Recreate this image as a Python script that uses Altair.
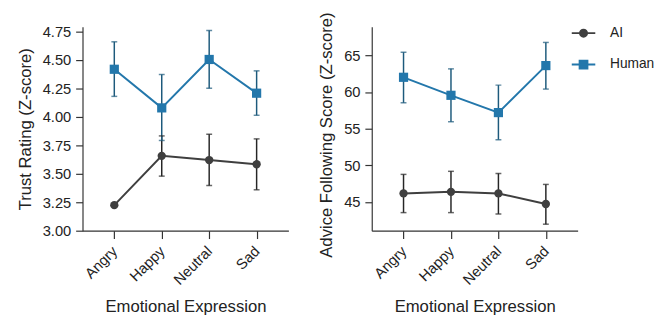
import altair as alt
import pandas as pd

emotions = ["Angry", "Happy", "Neutral", "Sad"]
series_names = ["AI", "Human"]

trust_ai = [3.224, 3.657, 3.620, 3.583]
trust_ai_lo = [3.224, 3.479, 3.396, 3.359]
trust_ai_hi = [3.224, 3.832, 3.846, 3.806]
trust_hu = [4.417, 4.078, 4.503, 4.207]
trust_hu_lo = [4.179, 3.792, 4.250, 4.013]
trust_hu_hi = [4.658, 4.371, 4.758, 4.403]

adv_ai = [46.16, 46.38, 46.16, 44.72]
adv_ai_lo = [43.54, 43.54, 43.36, 41.96]
adv_ai_hi = [48.76, 49.18, 48.89, 47.39]
adv_hu = [62.02, 59.56, 57.20, 63.62]
adv_hu_lo = [58.54, 55.95, 53.50, 60.41]
adv_hu_hi = [65.44, 63.17, 60.95, 66.78]

trust_ticks = [3.0, 3.25, 3.5, 3.75, 4.0, 4.25, 4.5, 4.75]
adv_ticks = [45, 50, 55, 60, 65]

AI_COL = "#3f3f3f"
HU_COL = "#2377ab"
AI_ERR = "#262626"
HU_ERR = "#1d5a7c"
FONT = "Liberation Sans"


def make_df(ai, ai_lo, ai_hi, hu, hu_lo, hu_hi):
    rows = []
    for i, e in enumerate(emotions):
        rows.append({"emotion": e, "series": "AI", "mean": ai[i], "lo": ai_lo[i], "hi": ai_hi[i]})
        rows.append({"emotion": e, "series": "Human", "mean": hu[i], "lo": hu_lo[i], "hi": hu_hi[i]})
    return pd.DataFrame(rows)


def panel(df, domain, ticks, ytitle, fmt, with_legend, title_y=None):
    xenc = alt.X(
        "emotion:N",
        scale=alt.Scale(type="point", padding=0.67, domain=emotions),
        axis=alt.Axis(title="Emotional Expression", labelAngle=-45, labelAlign="right",
                      labelBaseline="middle", tickSize=8, labelPadding=10, titlePadding=12),
    )
    yscale = alt.Scale(domain=domain, nice=False, zero=False)
    yaxis_args = dict(title=ytitle, values=ticks, format=fmt, tickSize=7, labelPadding=5,
                      titlePadding=8, labelOverlap=False, tickCount=12)
    if title_y is not None:
        yaxis_args["titleY"] = title_y
    yaxis = alt.Axis(**yaxis_args)
    color = alt.Color("series:N", scale=alt.Scale(domain=series_names, range=[AI_COL, HU_COL]), legend=None)
    errc = alt.condition("datum.series == 'AI'", alt.value(AI_ERR), alt.value(HU_ERR))
    base = alt.Chart(df).encode(x=xenc)

    rules = base.mark_rule(strokeWidth=1.5).encode(
        y=alt.Y("lo:Q", scale=yscale, axis=yaxis), y2="hi:Q", color=errc)
    caps_lo = base.mark_tick(size=6, thickness=1.5).encode(y=alt.Y("lo:Q", scale=yscale), color=errc)
    caps_hi = base.mark_tick(size=6, thickness=1.5).encode(y=alt.Y("hi:Q", scale=yscale), color=errc)
    lines = base.mark_line(strokeWidth=2).encode(y=alt.Y("mean:Q", scale=yscale), color=color, detail="series:N")
    circles = base.transform_filter("datum.series == 'AI'").mark_circle(size=72, opacity=1).encode(
        y=alt.Y("mean:Q", scale=yscale), color=color)
    squares = base.transform_filter("datum.series == 'Human'").mark_square(size=88, opacity=1).encode(
        y=alt.Y("mean:Q", scale=yscale), color=color)

    layers = [rules, caps_lo, caps_hi, lines, circles, squares]
    if with_legend:
        circ_path = "M-1,0L1,0M0.3,0A0.3,0.3,0,1,1,-0.3,0A0.3,0.3,0,1,1,0.3,0Z"
        sq_path = "M-1,0L1,0M-0.33,-0.33L0.33,-0.33L0.33,0.33L-0.33,0.33Z"
        leg_props = dict(title=None, orient="none", legendX=203, legendY=-6.5,
                         padding=0, rowPadding=11, labelOffset=14,
                         symbolSize=576, symbolStrokeWidth=2,
                         labelFontSize=14, labelFont=FONT, labelColor="#222",
                         symbolOpacity=1)
        leg = base.transform_filter("false").mark_point(filled=True, size=576, opacity=1).encode(
            y=alt.Y("mean:Q", scale=yscale),
            color=alt.Color("series:N", scale=alt.Scale(domain=series_names, range=[AI_COL, HU_COL]),
                            legend=alt.Legend(**leg_props)),
            shape=alt.Shape("series:N", scale=alt.Scale(domain=series_names, range=[circ_path, sq_path]),
                            legend=alt.Legend(**leg_props)),
        )
        layers = [leg] + layers
    return alt.layer(*layers).properties(width=210, height=208)


df_trust = make_df(trust_ai, trust_ai_lo, trust_ai_hi, trust_hu, trust_hu_lo, trust_hu_hi)
df_adv = make_df(adv_ai, adv_ai_lo, adv_ai_hi, adv_hu, adv_hu_lo, adv_hu_hi)

left = panel(df_trust, [3.0, 4.79], trust_ticks, "Trust Rating (Z-score)", ".2f", False)
right = panel(df_adv, [41.07, 68.92], adv_ticks, "Advice Following Score (Z-score)", "d", True, title_y=110)

chart = alt.hconcat(left, right, spacing=30).resolve_legend(
    color="independent", shape="independent"
).properties(
    padding={"left": 8, "top": 0, "right": 5, "bottom": 5}
).configure_view(stroke=None).configure_axis(
    grid=False, domainColor="#333", domainWidth=1.2, tickColor="#333", tickWidth=1.2,
    labelFont=FONT, labelFontSize=15, labelColor="#222",
    titleFont=FONT, titleFontSize=17, titleFontWeight="normal", titleColor="#222",
).configure_legend(labelFont=FONT)

chart.save("out.html", embed_options={"renderer": "svg", "actions": False})
